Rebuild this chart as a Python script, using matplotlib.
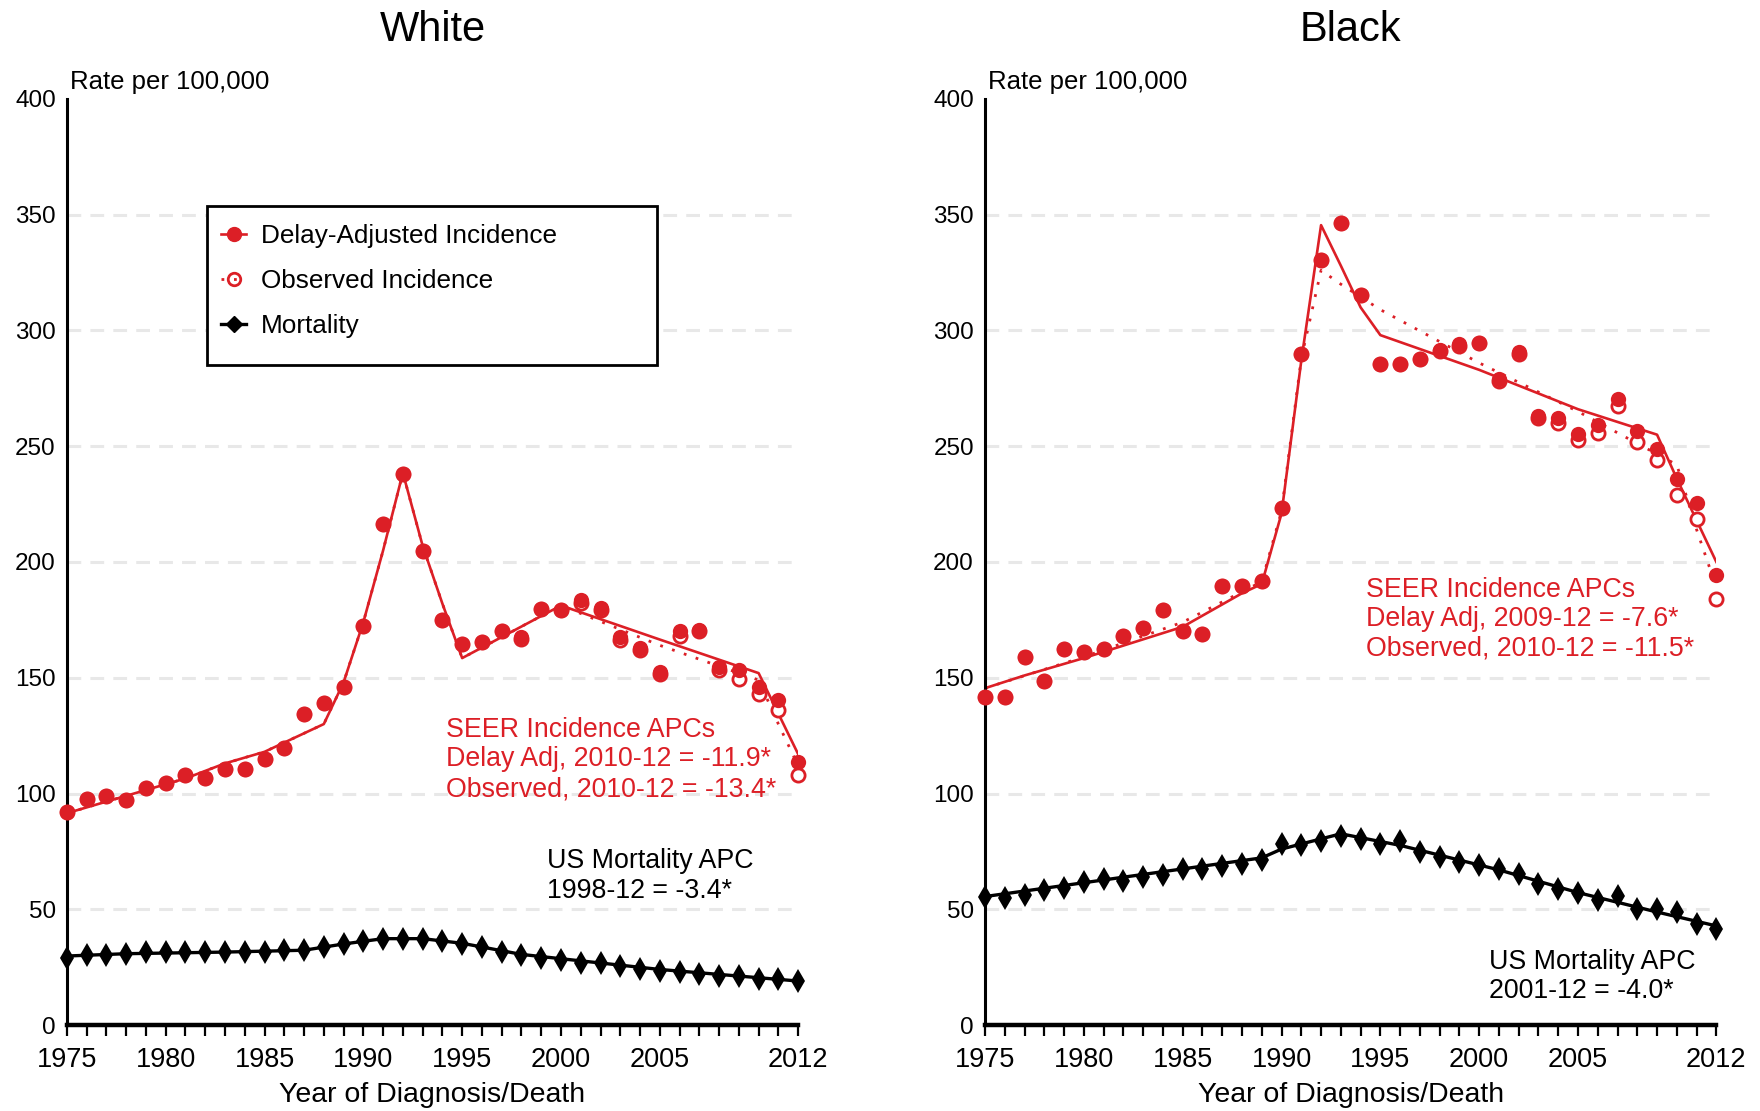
import numpy as np
import matplotlib
matplotlib.use('Agg')
import matplotlib.pyplot as plt
from matplotlib.lines import Line2D
from matplotlib.patches import Rectangle

plt.rcParams['font.family'] = ['Liberation Sans', 'DejaVu Sans']

years = np.arange(1975, 2013)
tick_labels = {1975: '1975', 1980: '1980', 1985: '1985', 1990: '1990',
               1995: '1995', 2000: '2000', 2005: '2005', 2012: '2012'}

# White - observed points
white_delay = [91.9, 97.7, 98.8, 97.4, 102.3, 104.6, 108.1, 106.6, 110.4, 110.4,
               115.0, 119.6, 134.5, 139.2, 146.1, 172.5, 216.3, 238.2, 204.8, 174.9,
               164.5, 165.6, 170.2, 167.4, 179.5, 179.2, 183.5, 180.3, 167.4, 162.8,
               152.7, 170.0, 170.8, 154.7, 153.3, 146.1, 140.3, 113.8]
white_obs = [91.9, 97.7, 98.8, 97.4, 102.3, 104.6, 108.1, 106.6, 110.4, 110.4,
             115.0, 119.6, 134.5, 139.2, 146.1, 172.5, 216.3, 238.2, 204.8, 174.9,
             164.5, 165.6, 170.2, 166.6, 179.5, 179.2, 182.3, 179.2, 166.5, 162.2,
             151.8, 168.0, 170.2, 153.3, 149.5, 142.8, 136.0, 108.2]
white_mort = [29.1, 30.3, 30.3, 30.8, 31.4, 31.4, 31.4, 31.4, 31.4, 31.7,
              31.7, 32.3, 32.3, 33.8, 35.2, 36.1, 37.3, 37.3, 37.3, 36.4,
              35.2, 33.8, 31.7, 30.3, 29.1, 27.9, 26.8, 26.8, 25.6, 24.4,
              23.2, 22.7, 22.1, 21.2, 21.2, 20.0, 20.0, 18.9]

# White - joinpoint fits
white_delay_fit_yr = [1975, 1978, 1981, 1983, 1985, 1988, 1989, 1990, 1991, 1992,
                      1993, 1994, 1995, 2000, 2005, 2010, 2011, 2012]
white_delay_fit = [91.5, 99, 106.5, 113, 118, 130, 148, 174, 205, 238.5,
                   207, 182, 158.5, 181.2, 166.5, 152, 134.5, 117]
white_obs_fit_yr = [1975, 1978, 1981, 1983, 1985, 1988, 1989, 1990, 1991, 1992,
                    1993, 1994, 1995, 2000, 2005, 2010, 2011, 2012]
white_obs_fit = [91.5, 99, 106.5, 113, 118, 130, 148, 174, 205, 238.5,
                 207, 182, 158.5, 181.2, 164, 149, 130, 112]
white_mort_fit_yr = [1975, 1978, 1983, 1987, 1989, 1991, 1993, 1995, 1998, 2005, 2012]
white_mort_fit = [29.8, 30.8, 31.5, 32.3, 35.0, 37.3, 37.3, 35.3, 30.5, 24.0, 19.0]

# Black - observed points
black_delay = [141.7, 141.7, 158.9, 148.6, 162.3, 161.1, 162.3, 168.0, 171.4, 179.4,
               170.3, 169.1, 189.7, 189.7, 192.0, 223.2, 290.0, 330.4, 346.5, 315.5,
               285.5, 285.5, 287.8, 291.6, 294.2, 294.8, 279.2, 290.7, 263.0, 262.2,
               255.5, 259.0, 270.5, 256.7, 248.6, 235.9, 225.5, 194.4]
black_obs = [141.7, 141.7, 158.9, 148.6, 162.3, 161.1, 162.3, 168.0, 171.4, 179.4,
             170.3, 169.1, 189.7, 189.7, 192.0, 223.2, 290.0, 330.4, 346.5, 315.5,
             285.5, 285.5, 287.8, 291.2, 293.3, 294.8, 278.2, 289.7, 262.2, 260.1,
             252.9, 255.8, 267.4, 251.8, 244.0, 228.8, 218.6, 184.0]
black_mort = [55.3, 55.0, 56.2, 58.5, 59.3, 61.9, 63.0, 62.2, 63.9, 65.0,
              67.3, 67.3, 68.5, 69.6, 71.3, 78.2, 77.9, 79.4, 81.7, 80.5,
              78.2, 79.4, 74.8, 72.5, 70.2, 69.3, 67.6, 65.3, 60.7, 58.7,
              57.2, 54.0, 55.6, 49.9, 49.9, 48.7, 43.8, 41.5]

# Black - joinpoint fits
black_delay_fit_yr = [1975, 1977, 1980, 1985, 1988, 1989, 1990, 1991, 1992, 1993,
                      1994, 1995, 2000, 2005, 2009, 2010, 2011, 2012]
black_delay_fit = [145.5, 151, 158.5, 172, 186.5, 190.5, 221, 287, 345.5, 328,
                   310, 298, 283, 266, 255, 236, 218, 200]
black_obs_fit_yr = [1975, 1980, 1985, 1989, 1990, 1991, 1992, 1993, 1995, 2000,
                    2005, 2010, 2011, 2012]
black_obs_fit = [145.5, 159, 174, 191.5, 222, 288, 326, 320, 309, 286,
                 265, 242, 214, 189]
black_mort_fit_yr = [1975, 1989, 1990, 1993, 1996, 2001, 2005, 2009, 2012]
black_mort_fit = [55.5, 72.2, 76.0, 82.6, 77.6, 67.0, 57.2, 48.8, 42.8]

RED = '#dc1f26'


def draw_panel(ax, delay, obs, mort, d_fit, o_fit, m_fit):
    ax.set_xlim(1975, 2012)
    ax.set_ylim(0, 400)
    ax.hlines(range(50, 400, 50), 1975, 2012, colors='#e8e8e8',
              linewidth=2.2, linestyles=(0, (4.5, 3)), zorder=0)

    ax.plot(d_fit[0], d_fit[1], color=RED, lw=1.9, zorder=2)
    ax.plot(o_fit[0], o_fit[1], color=RED, lw=2.0, ls=(0, (1, 3.5)), zorder=2)
    ax.plot(m_fit[0], m_fit[1], color='black', lw=2.4, zorder=2)

    ax.plot(years, obs, ls='none', marker='o', ms=9.5, mfc='white', mec=RED,
            mew=2.0, zorder=4, clip_on=False)
    ax.plot(years, delay, ls='none', marker='o', ms=11, mfc=RED, mec=RED,
            mew=0, zorder=5, clip_on=False)
    ax.plot(years, mort, ls='none', marker='d', ms=12, mfc='black', mec='black',
            mew=0, zorder=5, clip_on=False)

    for side in ['top', 'right']:
        ax.spines[side].set_visible(False)
    ax.spines['left'].set_linewidth(2.2)
    ax.spines['bottom'].set_linewidth(3.2)

    ax.set_xticks(years)
    ax.set_xticklabels([tick_labels.get(y, '') for y in years])
    ax.set_yticks(range(0, 401, 50))
    ax.tick_params(axis='x', direction='out', length=8, width=1.6, pad=7.5,
                   labelsize=19.5)
    ax.tick_params(axis='y', length=0, pad=8, labelsize=17.5)
    ax.set_xlabel('Year of Diagnosis/Death', fontsize=20.5, labelpad=7)


fig = plt.figure(figsize=(17.6, 11.11), dpi=100)
ax1 = fig.add_axes([0.038, 0.0774, 0.4155, 0.8335])
ax2 = fig.add_axes([0.5597, 0.0774, 0.4155, 0.8335])

draw_panel(ax1, white_delay, white_obs, white_mort,
           (white_delay_fit_yr, white_delay_fit),
           (white_obs_fit_yr, white_obs_fit),
           (white_mort_fit_yr, white_mort_fit))
draw_panel(ax2, black_delay, black_obs, black_mort,
           (black_delay_fit_yr, black_delay_fit),
           (black_obs_fit_yr, black_obs_fit),
           (black_mort_fit_yr, black_mort_fit))

for ax, title in [(ax1, 'White'), (ax2, 'Black')]:
    bb = ax.get_position()
    fig.text((bb.x0 + bb.x1) / 2, 1 - 30 / 1111, title, fontsize=30,
             ha='center', va='center')
    fig.text(bb.x0 + 3 / 1760, 1 - 82 / 1111, 'Rate per 100,000', fontsize=18.5,
             ha='left', va='center')

# annotations
for ax, x, ys, lines in [
        (ax1, 1994.2, [127.4, 114.8, 101.7],
         ['SEER Incidence APCs', 'Delay Adj, 2010-12 = -11.9*',
          'Observed, 2010-12 = -13.4*']),
        (ax2, 1994.25, [187.9, 175.3, 162.7],
         ['SEER Incidence APCs', 'Delay Adj, 2009-12 = -7.6*',
          'Observed, 2010-12 = -11.5*'])]:
    for y, s in zip(ys, lines):
        ax.text(x, y, s, color=RED, fontsize=19.3, ha='left', va='center')

for ax, x, ys, lines in [
        (ax1, 1999.3, [70.7, 58.1], ['US Mortality APC', '1998-12 = -3.4*']),
        (ax2, 2000.5, [27.1, 14.5], ['US Mortality APC', '2001-12 = -4.0*'])]:
    for y, s in zip(ys, lines):
        ax.text(x, y, s, color='black', fontsize=19.3, ha='left', va='center')

# legend box
ax1.add_patch(Rectangle((0.1915, 0.713), 0.6155, 0.171, transform=ax1.transAxes,
                        facecolor='white', edgecolor='black', lw=2, zorder=3))
handles = [
    Line2D([], [], color=RED, lw=1.9, marker='o', ms=10, mfc=RED, mec=RED),
    Line2D([], [], color=RED, lw=2.0, ls=(0, (1, 3.5)), marker='o', ms=9,
           mfc='none', mec=RED, mew=2.0),
    Line2D([], [], color='black', lw=2.4, marker='D', ms=8, mfc='black',
           mec='black'),
]
leg = ax1.legend(handles, ['Delay-Adjusted Incidence', 'Observed Incidence',
                           'Mortality'],
                 loc='upper left', bbox_to_anchor=(0.197, 0.876),
                 frameon=False, fontsize=18.8, handlelength=0.95,
                 handletextpad=0.55, labelspacing=0.8, borderaxespad=0)
leg.set_zorder(6)

fig.savefig('out.png', dpi=100)
